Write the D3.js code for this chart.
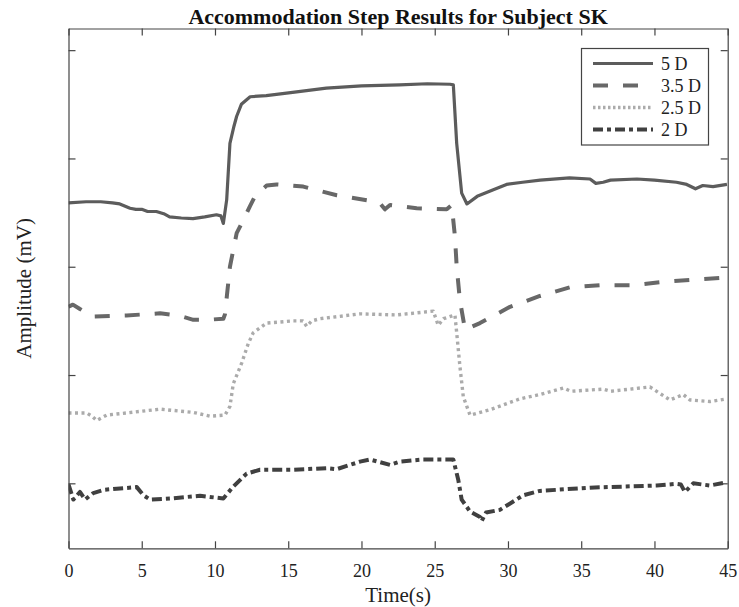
<!DOCTYPE html>
<html>
<head>
<meta charset="utf-8">
<script src="https://cdn.jsdelivr.net/npm/d3@7/dist/d3.min.js"></script>
<style>
  body { margin: 0; background: #fff; }
  svg text { font-family: "Liberation Serif", "Times New Roman", serif; }
</style>
</head>
<body>
<div id="chart"></div>
<script>
// values (time in s, amplitude in arbitrary mV units)
const t5 = [0, 1.2, 2.2, 3.0, 3.5, 4.2, 4.6, 5.0, 5.4, 6.0, 6.5, 6.9, 7.7, 8.5, 9.3, 10.1, 10.4, 10.57, 10.8, 11.02, 11.3, 11.48, 11.8, 12.4, 13.5, 15.3, 17.6, 20.0, 22.6, 24.5, 26.05, 26.27, 26.5, 26.84, 27.2, 27.9, 29.0, 29.9, 31.0, 32.2, 34.2, 35.6, 36.0, 36.5, 37.0, 38.8, 40.0, 41.5, 42.2, 42.8, 43.3, 44.0, 44.95];
const v5 = [2.59, 2.60, 2.60, 2.59, 2.58, 2.54, 2.53, 2.53, 2.51, 2.51, 2.49, 2.46, 2.45, 2.445, 2.46, 2.48, 2.47, 2.40, 2.62, 3.14, 3.30, 3.39, 3.50, 3.57, 3.58, 3.61, 3.65, 3.67, 3.68, 3.69, 3.685, 3.68, 3.14, 2.68, 2.58, 2.65, 2.71, 2.76, 2.78, 2.80, 2.82, 2.81, 2.77, 2.78, 2.80, 2.81, 2.80, 2.78, 2.76, 2.72, 2.75, 2.74, 2.76];

const t35 = [0, 0.3, 0.78, 1.69, 3.97, 6.25, 7.5, 8.52, 9.5, 10.57, 10.68, 11.02, 11.48, 12.0, 12.39, 12.73, 13.53, 14.21, 16.03, 18.31, 20.58, 21.3, 21.6, 21.95, 23.77, 25.82, 26.16, 26.38, 26.5, 26.72, 27.07, 28.09, 30.14, 32.18, 34.23, 36.28, 38.55, 40.6, 42.65, 44.93];
const v35 = [1.63, 1.65, 1.61, 1.54, 1.55, 1.57, 1.55, 1.51, 1.51, 1.52, 1.56, 2.00, 2.31, 2.45, 2.56, 2.65, 2.75, 2.76, 2.74, 2.66, 2.61, 2.58, 2.53, 2.57, 2.54, 2.53, 2.57, 2.28, 2.00, 1.69, 1.42, 1.48, 1.63, 1.73, 1.81, 1.83, 1.83, 1.86, 1.88, 1.90];

const t25 = [0, 1.24, 1.6, 1.92, 2.6, 3.97, 6.25, 8.52, 9.66, 10.68, 11.02, 11.25, 11.82, 12.27, 12.61, 13.53, 15.34, 16.0, 16.26, 16.6, 17.17, 19.9, 22.4, 24.9, 25.24, 25.6, 26.38, 26.5, 26.72, 26.95, 27.41, 28.77, 30.82, 32.18, 33.78, 34.3, 36.5, 37.0, 39.69, 41.06, 41.97, 42.42, 43.79, 44.93];
const v25 = [0.65, 0.65, 0.62, 0.58, 0.63, 0.65, 0.685, 0.655, 0.62, 0.63, 0.71, 0.92, 1.11, 1.29, 1.39, 1.48, 1.50, 1.50, 1.45, 1.50, 1.52, 1.565, 1.555, 1.59, 1.46, 1.52, 1.555, 1.39, 1.08, 0.80, 0.63, 0.68, 0.78, 0.82, 0.88, 0.85, 0.87, 0.85, 0.89, 0.77, 0.82, 0.77, 0.755, 0.78];

const t2 = [0, 0.33, 0.78, 1.13, 1.69, 2.4, 3.29, 4.66, 5.11, 5.56, 6.93, 8.98, 10.57, 11.25, 12.16, 13.07, 15.34, 17.62, 18.3, 19.9, 20.58, 21.95, 22.63, 24.22, 26.27, 26.61, 26.84, 27.41, 28.09, 28.2, 28.5, 29.45, 31.04, 32.18, 35.6, 40.15, 41.52, 41.8, 42.08, 42.65, 43.79, 44.93];
const v2 = [-0.01, -0.15, -0.08, -0.15, -0.09, -0.06, -0.05, -0.035, -0.11, -0.15, -0.14, -0.115, -0.14, -0.03, 0.09, 0.125, 0.125, 0.14, 0.13, 0.20, 0.22, 0.17, 0.20, 0.22, 0.22, 0.03, -0.15, -0.26, -0.31, -0.35, -0.27, -0.245, -0.11, -0.07, -0.04, -0.02, -0.005, -0.01, -0.08, 0.0, -0.02, 0.01];

const seriesNames = ["5 D", "3.5 D", "2.5 D", "2 D"];
const xTicks = [0, 5, 10, 15, 20, 25, 30, 35, 40, 45];
const yTicks = [0, 1, 2, 3, 4];

const w = 739, h = 607;
const margin = { top: 28.5, right: 11.3, bottom: 58.7, left: 68.5 };

const svg = d3.select('#chart').append('svg')
  .attr('width', w)
  .attr('height', h);

const xScale = d3.scaleLinear().domain([0, 45]).range([margin.left, w - margin.right]);
const yScale = d3.scaleLinear().domain([-0.6, 4.2]).range([h - margin.bottom, margin.top]);

const styles = [
  { color: '#5c5c5c', width: 3.2, dash: null },
  { color: '#686868', width: 4, dash: '15,15' },
  { color: '#ababab', width: 3.4, dash: '3,3.5' },
  { color: '#404040', width: 4, dash: '10,4,4,4' }
];

const series = [[t5, v5], [t35, v35], [t25, v25], [t2, v2]].map(([ts, vs]) =>
  ts.map((t, i) => ({ t: t, v: vs[i] })));

svg.append('clipPath').attr('id', 'clip')
  .append('rect')
  .attr('x', xScale(0)).attr('y', yScale(4.2))
  .attr('width', xScale(45) - xScale(0))
  .attr('height', yScale(-0.6) - yScale(4.2));

const line = d3.line().x(d => xScale(d.t)).y(d => yScale(d.v));

svg.append('g').attr('clip-path', 'url(#clip)')
  .selectAll('path')
  .data(series)
  .enter()
  .append('path')
  .attr('d', line)
  .attr('fill', 'none')
  .attr('stroke', (d, i) => styles[i].color)
  .attr('stroke-width', (d, i) => styles[i].width)
  .attr('stroke-dasharray', (d, i) => styles[i].dash)
  .attr('stroke-linejoin', 'round');

// axes box with inward ticks on all sides
const axisColor = '#444';
const tickLen = 7;
const axBottom = svg.append('g')
  .attr('transform', 'translate(0,' + yScale(-0.6) + ')')
  .call(d3.axisBottom(xScale).tickValues(xTicks).tickSizeInner(-tickLen).tickSizeOuter(0).tickPadding(tickLen + 9));
const axTop = svg.append('g')
  .attr('transform', 'translate(0,' + yScale(4.2) + ')')
  .call(d3.axisTop(xScale).tickValues(xTicks).tickSizeInner(-tickLen).tickSizeOuter(0).tickFormat(''));
const axLeft = svg.append('g')
  .attr('transform', 'translate(' + xScale(0) + ',0)')
  .call(d3.axisLeft(yScale).tickValues(yTicks).tickSizeInner(-tickLen).tickSizeOuter(0).tickFormat(''));
const axRight = svg.append('g')
  .attr('transform', 'translate(' + xScale(45) + ',0)')
  .call(d3.axisRight(yScale).tickValues(yTicks).tickSizeInner(-tickLen).tickSizeOuter(0).tickFormat(''));

[axBottom, axTop, axLeft, axRight].forEach(g => {
  g.selectAll('path, line').attr('stroke', axisColor).attr('stroke-width', 1.2);
});
axBottom.selectAll('text')
  .attr('font-size', 18)
  .attr('font-family', '"Liberation Serif", serif')
  .attr('fill', '#222');

// title and labels
svg.append('text')
  .attr('x', (xScale(0) + xScale(45)) / 2)
  .attr('y', 24)
  .attr('text-anchor', 'middle')
  .attr('font-size', 22)
  .attr('font-weight', 'bold')
  .attr('fill', '#111')
  .text('Accommodation Step Results for Subject SK');

svg.append('text')
  .attr('x', (xScale(0) + xScale(45)) / 2)
  .attr('y', 602)
  .attr('text-anchor', 'middle')
  .attr('font-size', 21)
  .attr('fill', '#222')
  .text('Time(s)');

svg.append('text')
  .attr('transform', 'translate(31,' + (yScale(-0.6) + yScale(4.2)) / 2 + ') rotate(-90)')
  .attr('text-anchor', 'middle')
  .attr('font-size', 21)
  .attr('fill', '#222')
  .text('Amplitude (mV)');

// legend
const legend = svg.append('g');
legend.append('rect')
  .attr('x', 581.5).attr('y', 48.5)
  .attr('width', 127).attr('height', 96.5)
  .attr('fill', '#fff')
  .attr('stroke', axisColor)
  .attr('stroke-width', 1.2);

const rows = legend.selectAll('g.row')
  .data(seriesNames)
  .enter()
  .append('g')
  .attr('class', 'row')
  .attr('transform', (d, i) => 'translate(0,' + (63.5 + i * 22) + ')');

rows.append('line')
  .attr('x1', 593).attr('x2', 653)
  .attr('stroke', (d, i) => styles[i].color)
  .attr('stroke-width', (d, i) => styles[i].width)
  .attr('stroke-dasharray', (d, i) => i === 2 ? '2.5,2.5' : styles[i].dash);

rows.append('text')
  .attr('x', 661)
  .attr('y', 6)
  .attr('font-size', 18)
  .attr('fill', '#222')
  .text(d => d);
</script>
</body>
</html>
